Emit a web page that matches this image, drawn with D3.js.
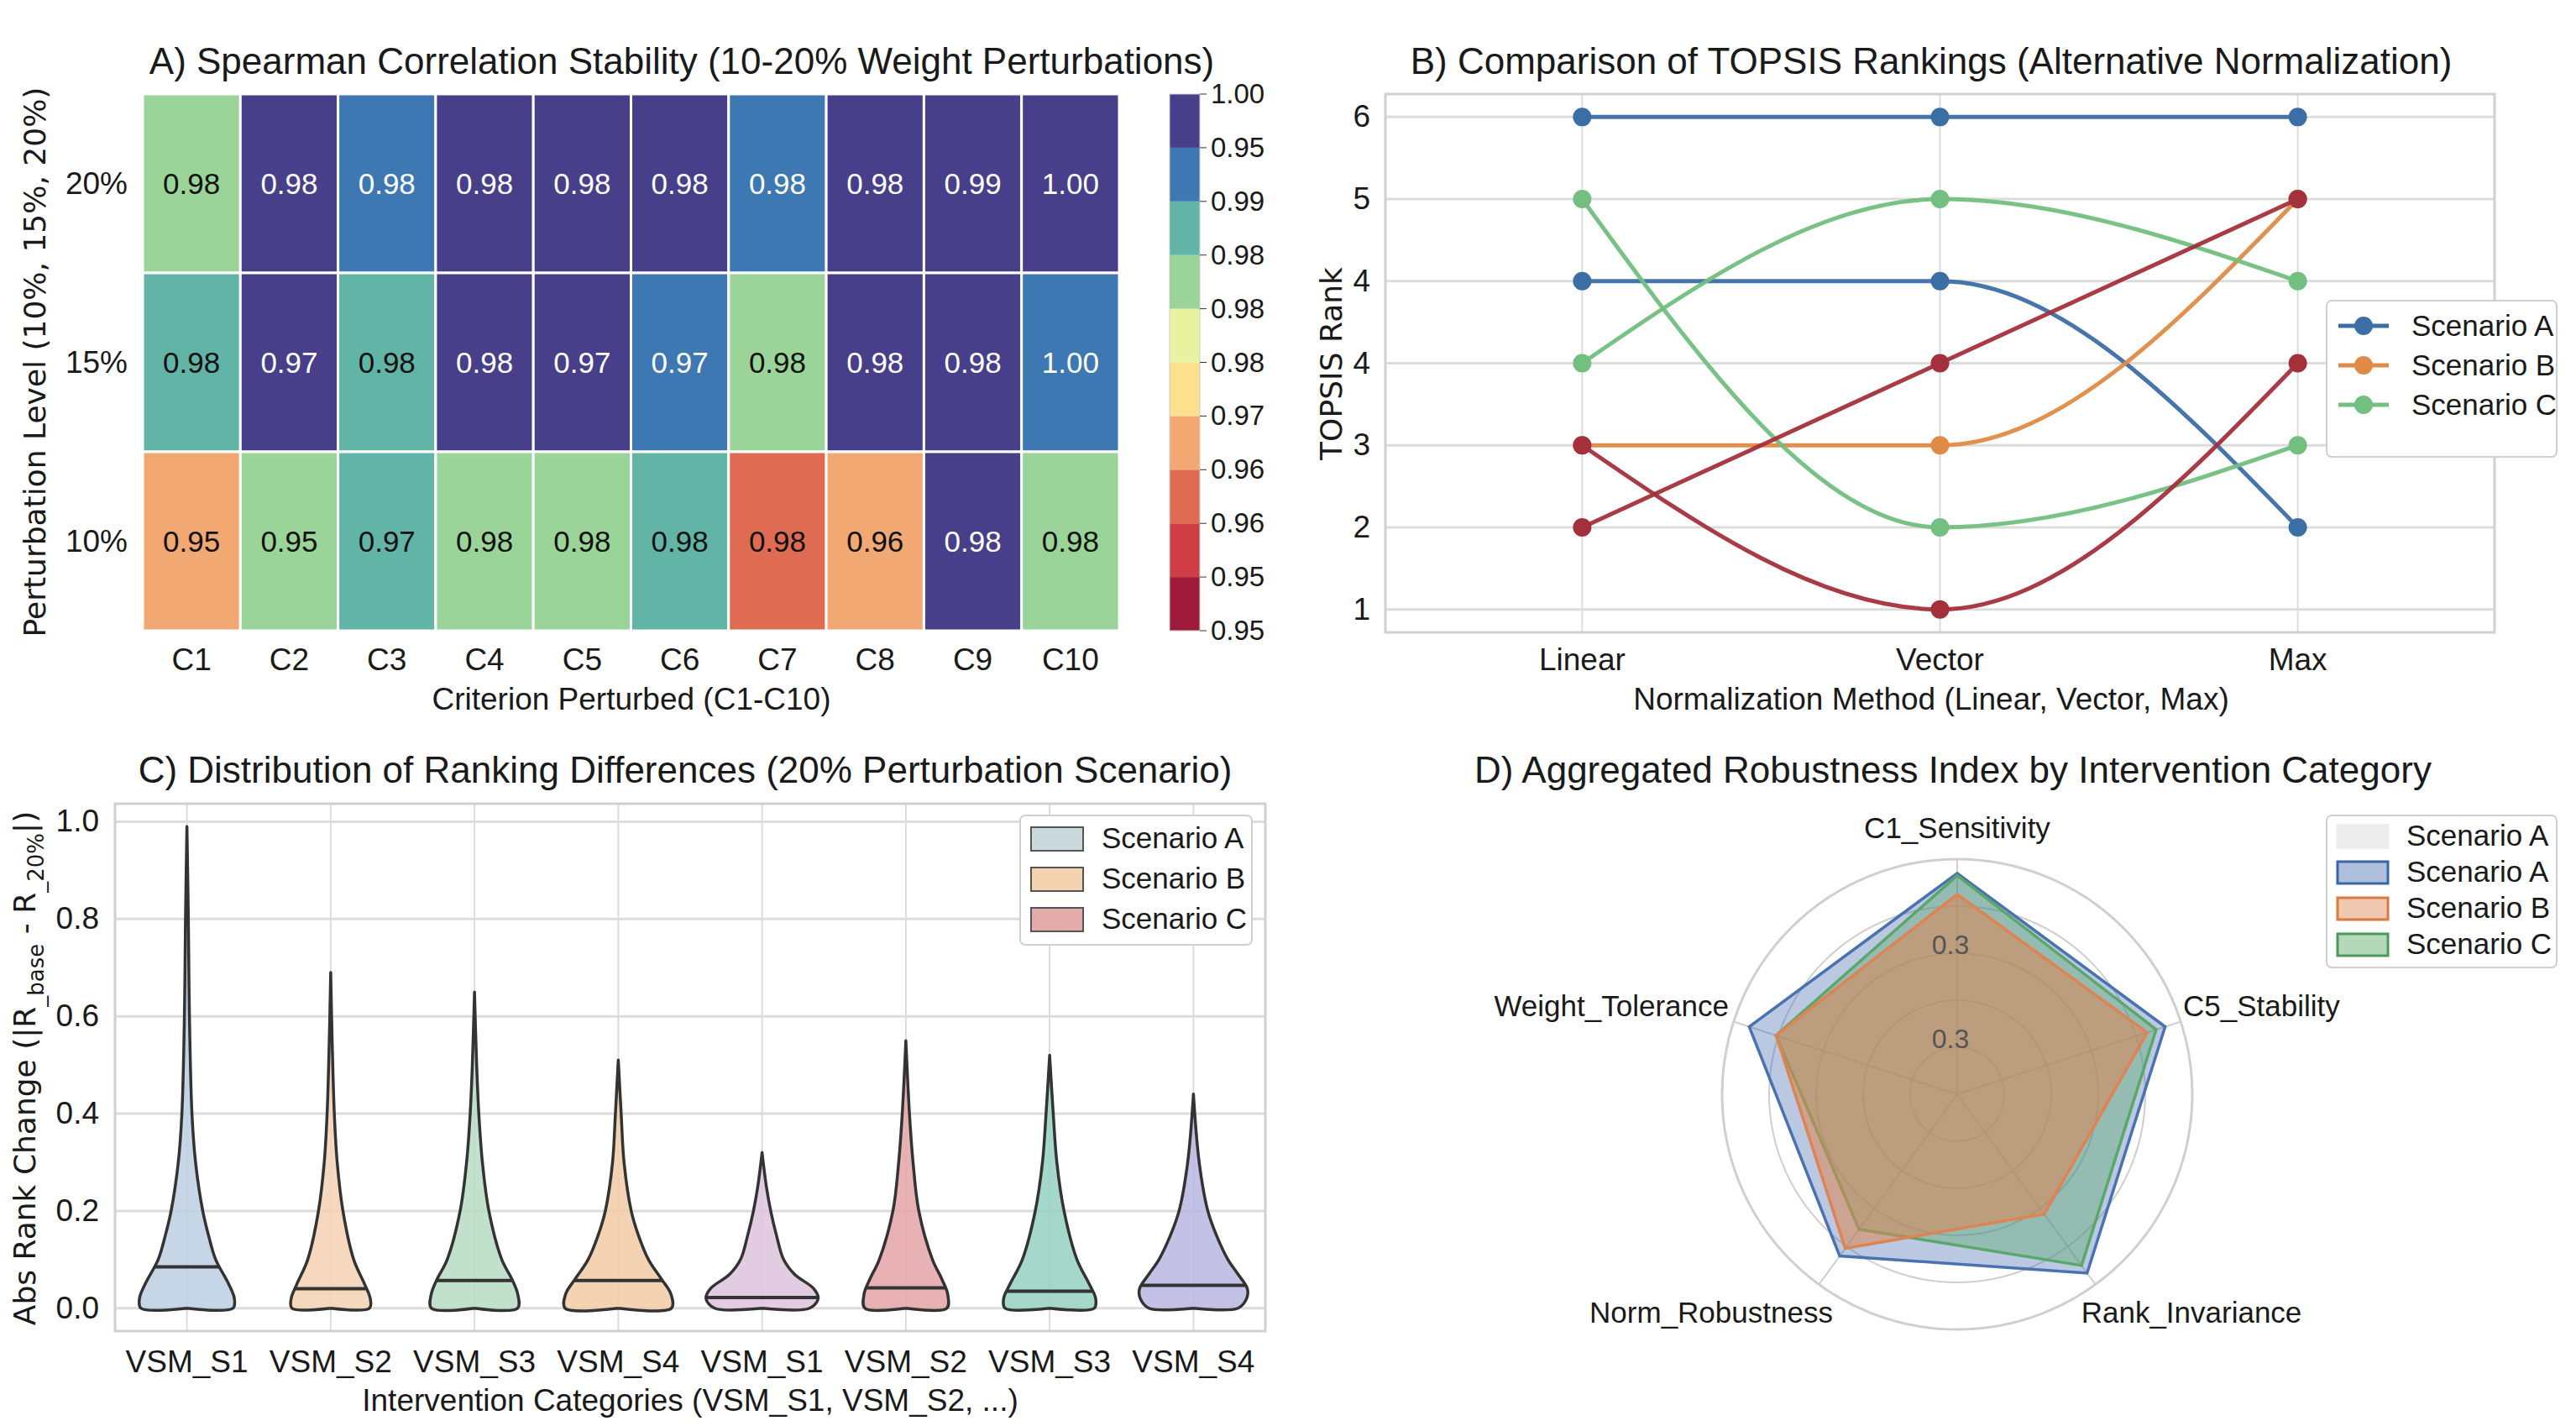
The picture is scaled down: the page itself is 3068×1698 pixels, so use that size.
<!DOCTYPE html>
<html><head><meta charset="utf-8">
<script src="https://cdn.jsdelivr.net/npm/d3@7/dist/d3.min.js"></script>
<style>body{margin:0;background:#fff}text{font-family:"Liberation Sans",Arial,sans-serif;fill:#1a1a1a}</style>
</head><body><svg id="c" width="3068" height="1698"></svg>
<script>
// ---------- DATA ----------
const criteria = ["C1","C2","C3","C4","C5","C6","C7","C8","C9","C10"];
const levels = ["20%","15%","10%"];
const heatLabels = [
  ["0.98","0.98","0.98","0.98","0.98","0.98","0.98","0.98","0.99","1.00"],
  ["0.98","0.97","0.98","0.98","0.97","0.97","0.98","0.98","0.98","1.00"],
  ["0.95","0.95","0.97","0.98","0.98","0.98","0.98","0.96","0.98","0.98"]];
const heatValues = [
  [0.983,0.998,0.993,0.998,0.998,0.998,0.993,0.998,0.998,0.998],
  [0.987,0.998,0.987,0.998,0.998,0.993,0.983,0.998,0.998,0.992],
  [0.967,0.983,0.987,0.983,0.984,0.987,0.962,0.967,0.998,0.983]];
const cbTickLabels = ["0.95","0.95","0.96","0.96","0.97","0.98","0.98","0.98","0.98","0.99","0.95","1.00"];
const bandColors = ["#9e1a3a","#cf3d45","#de6b52","#f2a872","#fde08e","#e9f2a0","#9bd498","#62b5a6","#3d78b2","#473f8a"];

const methods = ["Linear","Vector","Max"];
const rankTickLabels = ["1","2","3","4","4","5","6"];
const rankLines = [
  {name:"Scenario A", color:"#3c6ea6", vals:[7,7,7]},
  {name:"Scenario A2", color:"#3c6ea6", vals:[5,5,2]},
  {name:"Scenario B", color:"#e08a45", vals:[3,3,6]},
  {name:"Scenario C", color:"#72bf7f", vals:[6,2,3]},
  {name:"Scenario C2", color:"#72bf7f", vals:[4,6,5]},
  {name:"Red1", color:"#a3303a", vals:[2,4,6]},
  {name:"Red2", color:"#a3303a", vals:[3,1,4]}];
const rankLegend = [{name:"Scenario A",color:"#3c6ea6"},{name:"Scenario B",color:"#e08a45"},{name:"Scenario C",color:"#72bf7f"}];

const violinCats = ["VSM_S1","VSM_S2","VSM_S3","VSM_S4","VSM_S1","VSM_S2","VSM_S3","VSM_S4"];
const violinColors = ["#bccfe2","#f3d1b3","#b7dcc3","#f2cba6","#dcc3dc","#e4a5a8","#97d0c2","#b9b6e2"];
const violinMedians = [0.085,0.04,0.057,0.057,0.022,0.042,0.035,0.047];
const violinProfiles = [
  [[0,0.64],[0.02,0.66],[0.05,0.58],[0.1,0.4],[0.15,0.3],[0.2,0.22],[0.3,0.12],[0.4,0.07],[0.6,0.035],[0.8,0.02],[0.99,0]],
  [[0,0.54],[0.02,0.55],[0.05,0.47],[0.1,0.32],[0.2,0.17],[0.3,0.09],[0.4,0.05],[0.55,0.02],[0.69,0]],
  [[0,0.6],[0.03,0.6],[0.06,0.52],[0.1,0.38],[0.2,0.2],[0.3,0.11],[0.4,0.06],[0.5,0.03],[0.65,0]],
  [[0,0.74],[0.03,0.73],[0.06,0.6],[0.1,0.42],[0.15,0.28],[0.2,0.18],[0.3,0.08],[0.4,0.04],[0.51,0]],
  [[0,0.66],[0.02,0.78],[0.04,0.72],[0.07,0.45],[0.1,0.3],[0.15,0.2],[0.2,0.12],[0.25,0.06],[0.32,0]],
  [[0,0.57],[0.03,0.58],[0.06,0.5],[0.1,0.37],[0.2,0.18],[0.3,0.1],[0.4,0.05],[0.55,0]],
  [[0,0.62],[0.02,0.64],[0.05,0.55],[0.1,0.38],[0.2,0.2],[0.3,0.1],[0.4,0.05],[0.52,0]],
  [[0,0.62],[0.02,0.74],[0.04,0.75],[0.07,0.62],[0.1,0.48],[0.15,0.32],[0.2,0.2],[0.3,0.08],[0.44,0]]];
const violinTicks = [0,0.2,0.4,0.6,0.8,1.0];
const violinLegend = [{name:"Scenario A",color:"#c9d9dc"},{name:"Scenario B",color:"#f4d3b1"},{name:"Scenario C",color:"#e3abaa"}];

const radarAxes = ["C1_Sensitivity","C5_Stability","Rank_Invariance","Norm_Robustness","Weight_Tolerance"];
const radarSeries = [
  {name:"Scenario A", color:"#4a72b0", vals:[0.94,0.93,0.94,0.85,0.93]},
  {name:"Scenario C", color:"#5aa868", vals:[0.93,0.89,0.9,0.71,0.81]},
  {name:"Scenario B", color:"#dd8452", vals:[0.85,0.85,0.63,0.81,0.81]}];
const radarGrid = [0.2,0.4,0.6,0.8,1.0];
const radarTickLabels = [{v:0.24,t:"0.3"},{v:0.64,t:"0.3"}];
const radarLegend = [{name:"Scenario A",fill:"#ececec",stroke:"#ececec"},{name:"Scenario A",fill:"#4a72b0",stroke:"#3b64a8"},{name:"Scenario B",fill:"#dd8452",stroke:"#d97a40"},{name:"Scenario C",fill:"#5aa868",stroke:"#4c9a5a"}];

// ---------- DRAW ----------
const svg = d3.select("#c");
const grid = "#dcdcdc";
function title(x,y,t){svg.append("text").attr("x",x).attr("y",y).attr("text-anchor","middle").attr("font-size",44).text(t);}

// Panel A
{
  const x = d3.scaleBand().domain(criteria).range([170,1333]);
  const y = d3.scaleBand().domain(levels).range([112,751]);
  const col = d3.scaleQuantize().domain([0.95,1.0]).range(bandColors);
  const g = svg.append("g");
  heatValues.forEach((row,i)=>row.forEach((v,j)=>{
    g.append("rect").attr("x",x(criteria[j])).attr("y",y(levels[i])).attr("width",x.bandwidth()).attr("height",y.bandwidth())
     .attr("fill",col(v)).attr("stroke","#fff").attr("stroke-width",3);
    const dark = v>=0.99;
    g.append("text").attr("x",x(criteria[j])+x.bandwidth()/2).attr("y",y(levels[i])+y.bandwidth()/2+12)
     .attr("text-anchor","middle").attr("font-size",35).style("fill",dark?"#fff":"#111").text(heatLabels[i][j]);
  }));
  criteria.forEach(c=>svg.append("text").attr("x",x(c)+x.bandwidth()/2).attr("y",798).attr("text-anchor","middle").attr("font-size",37).text(c));
  levels.forEach(l=>svg.append("text").attr("x",152).attr("y",y(l)+y.bandwidth()/2+12).attr("text-anchor","end").attr("font-size",37).text(l));
  svg.append("text").attr("x",752).attr("y",845).attr("text-anchor","middle").attr("font-size",37).text("Criterion Perturbed (C1-C10)");
  svg.append("text").attr("transform","translate(54,431) rotate(-90)").attr("text-anchor","middle").attr("font-size",36).style("font-family","DejaVu Sans").text("Perturbation Level (10%, 15%, 20%)");
  title(812,88,"A) Spearman Correlation Stability (10-20% Weight Perturbations)");
  // colorbar
  const cy = d3.scaleLinear().domain([0,bandColors.length]).range([751,112]);
  bandColors.forEach((c,i)=>svg.append("rect").attr("x",1393).attr("width",36).attr("y",cy(i+1)).attr("height",cy(i)-cy(i+1)).attr("fill",c));
  svg.append("rect").attr("x",1393).attr("width",36).attr("y",112).attr("height",639).attr("fill","none").attr("stroke","#ccc");
  const cbl = cbTickLabels.filter((t,i)=>i!==5);
  const ty = d3.scaleLinear().domain([0,cbl.length-1]).range([751,112]);
  cbl.forEach((t,i)=>{
    const yy = ty(i);
    svg.append("line").attr("x1",1429).attr("x2",1437).attr("y1",yy).attr("y2",yy).attr("stroke","#333");
    svg.append("text").attr("x",1442).attr("y",yy+11).attr("font-size",33).text(t);
  });
}

// Panel B
{
  const L=1650,R=2971,T=112,B=753;
  const x = d3.scalePoint().domain(methods).range([L,R]).padding(0.55);
  const y = d3.scaleLinear().domain([0.72,7.28]).range([B,T]);
  const g = svg.append("g");
  d3.range(1,8).forEach(v=>{
    g.append("line").attr("x1",L).attr("x2",R).attr("y1",y(v)).attr("y2",y(v)).attr("stroke",grid).attr("stroke-width",3);
    g.append("text").attr("x",1632).attr("y",y(v)+12).attr("text-anchor","end").attr("font-size",37).text(rankTickLabels[v-1]);
  });
  methods.forEach(m=>{
    g.append("line").attr("x1",x(m)).attr("x2",x(m)).attr("y1",T).attr("y2",B).attr("stroke",grid).attr("stroke-width",2);
    g.append("text").attr("x",x(m)).attr("y",798).attr("text-anchor","middle").attr("font-size",37).text(m);
  });
  g.append("rect").attr("x",L).attr("y",T).attr("width",R-L).attr("height",B-T).attr("fill","none").attr("stroke","#d0d0d0").attr("stroke-width",3);
  const line = d3.line().x((d,i)=>x(methods[i])).y(d=>y(d)).curve(d3.curveMonotoneX);
  rankLines.forEach(s=>{
    g.append("path").attr("d",line(s.vals)).attr("fill","none").attr("stroke",s.color).attr("stroke-width",5).attr("opacity",0.95);
    s.vals.forEach((v,i)=>g.append("circle").attr("cx",x(methods[i])).attr("cy",y(v)).attr("r",11).attr("fill",s.color));
  });
  title(2300,88,"B) Comparison of TOPSIS Rankings (Alternative Normalization)");
  svg.append("text").attr("x",2300).attr("y",845).attr("text-anchor","middle").attr("font-size",37).text("Normalization Method (Linear, Vector, Max)");
  svg.append("text").attr("transform","translate(1598,433) rotate(-90)").attr("text-anchor","middle").attr("font-size",36).style("font-family","DejaVu Sans").text("TOPSIS Rank");
  svg.append("rect").attr("x",2771).attr("y",358).attr("width",274).attr("height",186).attr("rx",6).attr("fill","#fff").attr("stroke","#d0d0d0").attr("stroke-width",2);
  rankLegend.forEach((d,i)=>{
    const yy=388+i*47;
    svg.append("line").attr("x1",2785).attr("x2",2845).attr("y1",yy).attr("y2",yy).attr("stroke",d.color).attr("stroke-width",5);
    svg.append("circle").attr("cx",2815).attr("cy",yy).attr("r",11).attr("fill",d.color);
    svg.append("text").attr("x",2872).attr("y",yy+12).attr("font-size",35).text(d.name);
  });
}

// Panel C
{
  const L=137,R=1507,T=957,B=1585;
  const x = d3.scaleBand().domain(d3.range(8)).range([L,R]);
  const y = d3.scaleLinear().domain([-0.047,1.037]).range([B,T]);
  const g = svg.append("g");
  violinTicks.forEach(v=>{
    g.append("line").attr("x1",L).attr("x2",R).attr("y1",y(v)).attr("y2",y(v)).attr("stroke",grid).attr("stroke-width",3);
    g.append("text").attr("x",118).attr("y",y(v)+12).attr("text-anchor","end").attr("font-size",37).text(v.toFixed(1));
  });
  d3.range(8).forEach(i=>{
    const cx=x(i)+x.bandwidth()/2;
    g.append("line").attr("x1",cx).attr("x2",cx).attr("y1",T).attr("y2",B).attr("stroke",grid).attr("stroke-width",2);
    g.append("text").attr("x",cx).attr("y",1634).attr("text-anchor","middle").attr("font-size",37).text(violinCats[i]);
  });
  g.append("rect").attr("x",L).attr("y",T).attr("width",R-L).attr("height",B-T).attr("fill","none").attr("stroke","#d0d0d0").attr("stroke-width",3);
  const hw = x.bandwidth()/2;
  violinProfiles.forEach((p,i)=>{
    const cx=x(i)+x.bandwidth()/2;
    const right = p.map(d=>[cx+d[1]*hw, y(d[0])]);
    const left = p.slice().reverse().map(d=>[cx-d[1]*hw, y(d[0])]);
    const pts = [[cx,y(0)]].concat(right, left, [[cx,y(0)]]);
    g.append("path").attr("d",d3.line().curve(d3.curveCatmullRom)(pts)).attr("fill",violinColors[i]).attr("fill-opacity",0.85).attr("stroke","#333").attr("stroke-width",3.5).attr("stroke-linejoin","round");
    const m=violinMedians[i];
    let w=0; for(let k=0;k<p.length-1;k++){ if(m>=p[k][0]&&m<=p[k+1][0]){const t=(m-p[k][0])/(p[k+1][0]-p[k][0]); w=p[k][1]+t*(p[k+1][1]-p[k][1]);} }
    g.append("line").attr("x1",cx-w*hw).attr("x2",cx+w*hw).attr("y1",y(m)).attr("y2",y(m)).attr("stroke","#333").attr("stroke-width",4);
  });
  title(816,932,"C) Distribution of Ranking Differences (20% Perturbation Scenario)");
  svg.append("text").attr("x",822).attr("y",1680).attr("text-anchor","middle").attr("font-size",37).text("Intervention Categories (VSM_S1, VSM_S2, ...)");
  const yl = svg.append("text").attr("transform","translate(42,1272) rotate(-90)").attr("text-anchor","middle").attr("font-size",36).style("font-family","DejaVu Sans");
  yl.append("tspan").text("Abs Rank Change (|R");
  yl.append("tspan").attr("dy",10).attr("font-size",26).text("_base");
  yl.append("tspan").attr("dy",-10).text(" - R");
  yl.append("tspan").attr("dy",10).attr("font-size",26).text("_20%");
  yl.append("tspan").attr("dy",-10).text("|)");
  svg.append("rect").attr("x",1215).attr("y",971).attr("width",276).attr("height",154).attr("rx",6).attr("fill","#fff").attr("stroke","#d0d0d0").attr("stroke-width",2);
  violinLegend.forEach((d,i)=>{
    const yy=998+i*48;
    svg.append("rect").attr("x",1228).attr("y",yy-13).attr("width",62).attr("height",28).attr("fill",d.color).attr("stroke","#555").attr("stroke-width",2);
    svg.append("text").attr("x",1312).attr("y",yy+12).attr("font-size",35).text(d.name);
  });
}

// Panel D
{
  const cx=2331, cy=1303, Rr=280;
  const r = d3.scaleLinear().domain([0,1]).range([0,Rr]);
  const n = radarAxes.length;
  const ang = i => i*2*Math.PI/n;
  const pt = (i,v)=>[cx+r(v)*Math.sin(ang(i)), cy-r(v)*Math.cos(ang(i))];
  const g = svg.append("g");
  radarGrid.forEach(v=>g.append("circle").attr("cx",cx).attr("cy",cy).attr("r",r(v)).attr("fill","none").attr("stroke","#cfcfcf").attr("stroke-width",v===1?3:2));
  radarAxes.forEach((a,i)=>{const p=pt(i,1); g.append("line").attr("x1",cx).attr("y1",cy).attr("x2",p[0]).attr("y2",p[1]).attr("stroke","#cfcfcf").attr("stroke-width",2);});
  radarSeries.forEach(s=>{
    const pts = s.vals.map((v,i)=>pt(i,v));
    g.append("polygon").attr("points",pts.map(p=>p.join(",")).join(" ")).attr("fill",s.color).attr("fill-opacity",s.name==="Scenario B"?0.55:0.38).attr("stroke",s.color).attr("stroke-width",3.5);
  });
  radarTickLabels.forEach(d=>g.append("text").attr("x",cx-8).attr("y",cy-r(d.v)+12).attr("text-anchor","middle").attr("font-size",32).style("fill","#555").text(d.t));
  const lp = [[2331,998,"middle"],[2600,1210,"start"],[2610,1575,"middle"],[2038,1575,"middle"],[2059,1210,"end"]];
  radarAxes.forEach((a,i)=>svg.append("text").attr("x",lp[i][0]).attr("y",lp[i][1]).attr("text-anchor",lp[i][2]).attr("font-size",35).text(a));
  title(2326,932,"D) Aggregated Robustness Index by Intervention Category");
  svg.append("rect").attr("x",2771).attr("y",971).attr("width",274).attr("height",181).attr("rx",6).attr("fill","#fff").attr("stroke","#d0d0d0").attr("stroke-width",2);
  radarLegend.forEach((d,i)=>{
    const yy=995+i*43;
    svg.append("rect").attr("x",2784).attr("y",yy-12).attr("width",60).attr("height",26).attr("fill",d.fill).attr("fill-opacity",i===0?1:0.45).attr("stroke",d.stroke).attr("stroke-width",3);
    svg.append("text").attr("x",2866).attr("y",yy+12).attr("font-size",35).text(d.name);
  });
}
</script></body></html>
